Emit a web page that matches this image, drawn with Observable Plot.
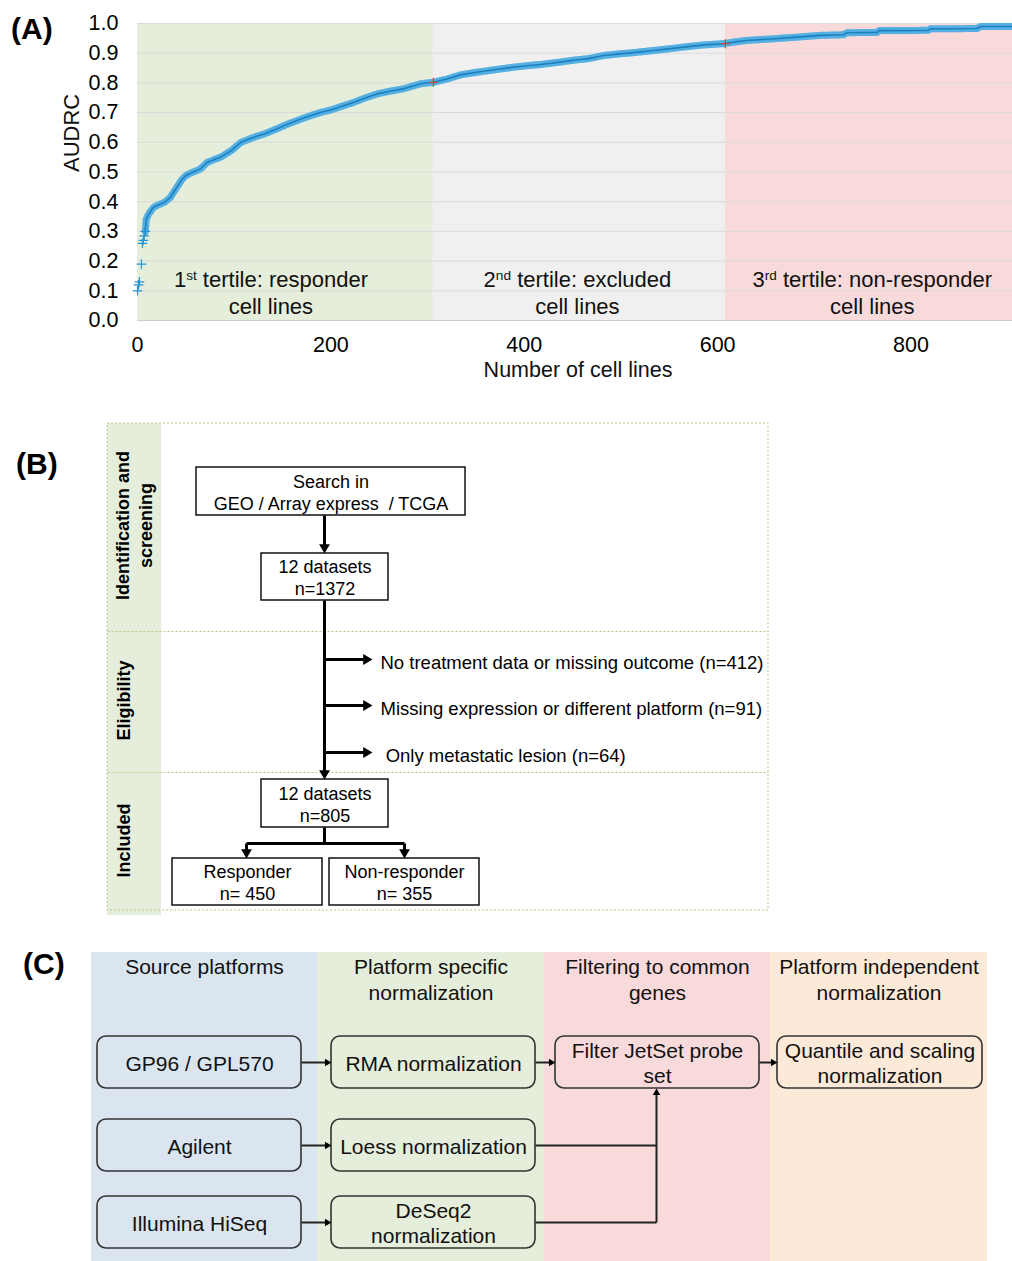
<!DOCTYPE html>
<html><head><meta charset="utf-8">
<script src="https://cdn.jsdelivr.net/npm/d3@7"></script>
<script src="https://cdn.jsdelivr.net/npm/@observablehq/plot@0.6"></script>
<style>
body{margin:0;background:#fff;font-family:"Liberation Sans",Arial,sans-serif;}
#page{position:relative;width:1012px;height:1261px;overflow:hidden;background:#fff;}
.panel{position:absolute;left:0;}
.plabel{position:absolute;font-weight:bold;font-size:30px;line-height:1;color:#000;}
</style></head><body><div id="page"></div>
<script>
// ---------- Panel A data ----------
const cellRank = [0,1,2,4,5,6,7,8,9,11,14,17,22,28,34,38,42,46,50,54,60,65,72,80,86,92,97,102,107,115,123,131,140,148,156,165,174,183,190,200,212,224,236,248,261,275,284,293,306,320,334,351,369,389,403,417,437,455,465,482,496,510,534,558,572,586,606,618,630,655,682,706,730,734,765,767,818,820,868,872,904];
const audrc = [0.10,0.12,0.13,0.19,0.26,0.27,0.285,0.30,0.34,0.355,0.37,0.382,0.39,0.398,0.415,0.435,0.455,0.475,0.488,0.495,0.503,0.51,0.532,0.543,0.55,0.562,0.572,0.586,0.60,0.61,0.62,0.628,0.64,0.651,0.662,0.673,0.684,0.694,0.701,0.709,0.722,0.735,0.75,0.763,0.772,0.78,0.789,0.797,0.802,0.813,0.827,0.836,0.844,0.853,0.858,0.862,0.87,0.878,0.881,0.892,0.897,0.901,0.909,0.918,0.923,0.928,0.932,0.938,0.943,0.948,0.954,0.96,0.962,0.969,0.970,0.976,0.977,0.982,0.983,0.99,0.99];
const tertileBounds = [0, 306, 608, 905];
const cutoffAudrc = [0.802, 0.932];
const tertileLabels = ["1st tertile: responder\ncell lines", "2nd tertile: excluded\ncell lines", "3rd tertile: non-responder\ncell lines"];
const tertileLabelX = [138, 455, 760];
const tertileColors = ["#e5eddb", "#f0f0f0", "#f9dadb"];
const yTicks = [0,0.1,0.2,0.3,0.4,0.5,0.6,0.7,0.8,0.9,1.0];
const xTicks = [0,200,400,600,800];

// ---------- Panel B data ----------
const bStages = ["Identification and\nscreening", "Eligibility", "Included"];
const bBoxes = ["Search in\nGEO / Array express  / TCGA", "12 datasets\nn=1372", "12 datasets\nn=805", "Responder\nn= 450", "Non-responder\nn= 355"];
const bExclusions = ["No treatment data or missing outcome (n=412)", "Missing expression or different platform (n=91)", " Only metastatic lesion (n=64)"];

// ---------- Panel C data ----------
const cColumns = ["Source platforms", "Platform specific\nnormalization", "Filtering to common\ngenes", "Platform independent\nnormalization"];
const cColColors = ["#dae5f0", "#e5eddb", "#f9dadb", "#fde9d8"];
const cSources = ["GP96 / GPL570", "Agilent", "Illumina HiSeq"];
const cNorms = ["RMA normalization", "Loess normalization", "DeSeq2\nnormalization"];
const cFilter = ["Filter JetSet probe\nset"];
const cFinal = ["Quantile and scaling\nnormalization"];

const page = document.getElementById("page");
const FONT = "Liberation Sans, Arial, sans-serif";

function place(el, top) {
  const d = document.createElement("div");
  d.className = "panel"; d.style.top = top + "px";
  d.appendChild(el); page.appendChild(d);
}
function label(txt, left, top) {
  const d = document.createElement("div");
  d.className = "plabel"; d.textContent = txt;
  d.style.left = left + "px"; d.style.top = top + "px";
  page.appendChild(d);
}
function superscripts(svg) {
  svg.querySelectorAll("text, tspan").forEach(el => {
    if (el.childNodes.length === 1 && el.firstChild.nodeType === 3) {
      const m = el.textContent.match(/^(\d)(st|nd|rd)( .*)$/);
      if (m) {
        el.textContent = "";
        el.appendChild(document.createTextNode(m[1]));
        const s = document.createElementNS("http://www.w3.org/2000/svg", "tspan");
        s.setAttribute("baseline-shift", "super");
        s.setAttribute("font-size", "0.62em");
        s.textContent = m[2];
        el.appendChild(s);
        el.appendChild(document.createTextNode(m[3]));
      }
    }
  });
}
// filled triangular arrow heads (tip at the given point)
function heads(data, dir, r) {
  const off = 2 * Math.sqrt(Math.PI * r * r / (3 * Math.sqrt(3)));
  const o = {right: {rotate: 90, dx: -off, dy: 0}, down: {rotate: 180, dx: 0, dy: -off}, up: {rotate: 0, dx: 0, dy: off}}[dir];
  return Plot.dot(data, {x: "x", y: "y", symbol: "triangle", r, fill: "#000", stroke: "none", rotate: o.rotate, dx: o.dx, dy: o.dy});
}

// ---------- Panel A ----------
const pts = cellRank.map((r, i) => ({rank: r, v: audrc[i]}));
const band = pts.filter(d => d.rank >= 8);
const tert = tertileLabels.map((t, i) => ({x1: tertileBounds[i], x2: tertileBounds[i + 1], lx: tertileLabelX[i], label: t, color: tertileColors[i]}));
const cut = cutoffAudrc.map((v, i) => ({rank: tertileBounds[i + 1], v}));
const chartA = Plot.plot({
  width: 1012, height: 395,
  marginLeft: 137, marginRight: 0, marginTop: 23, marginBottom: 75,
  style: {fontFamily: FONT, fontSize: "21.5px", color: "#000", background: "transparent", overflow: "visible"},
  color: {type: "identity"},
  x: {domain: [0, 905], ticks: xTicks, tickSize: 0, tickPadding: 16, label: null},
  y: {domain: [0, 1], ticks: yTicks, tickFormat: ".1f", tickSize: 0, tickPadding: 19, label: null},
  marks: [
    Plot.rect(tert, {x1: "x1", x2: "x2", y1: 0, y2: 1, fill: "color"}),
    Plot.gridY(yTicks, {stroke: "#dadada", strokeOpacity: 1, strokeWidth: 1}),
    Plot.ruleY([0], {stroke: "#cfcfcf"}),
    Plot.line(band, {x: "rank", y: "v", stroke: "#a9d7f0", strokeWidth: 7}),
    Plot.line(band, {x: "rank", y: "v", stroke: "#3aa3dc", strokeWidth: 7, strokeDasharray: "1 1.3", strokeOpacity: 0.75}),
    Plot.line(band, {x: "rank", y: "v", stroke: "#1b7fc0", strokeWidth: 1.6}),
    Plot.dot(pts.filter(d => d.rank < 9), {x: "rank", y: "v", symbol: "plus", r: 3.2, stroke: "#2596d4", strokeWidth: 1.2}),
    Plot.dot(cut, {x: "rank", y: "v", symbol: "plus", r: 3, stroke: "#e03a44", strokeWidth: 1.2}),
    Plot.text(tert, {x: "lx", text: "label", frameAnchor: "bottom", lineAnchor: "bottom", dy: -7, fontSize: 22, lineHeight: 1.22, fill: "#111"}),
    Plot.text(["AUDRC"], {frameAnchor: "left", dx: -66, rotate: -90, fontSize: 22, fill: "#111"}),
    Plot.text(["Number of cell lines"], {frameAnchor: "bottom", dy: 56, dx: 3, fontSize: 21.5, fill: "#111"})
  ]
});
superscripts(chartA);
place(chartA, 0);
label("(A)", 11, 14);

// ---------- Panel B (flow diagram, identity scales) ----------
const bTop = 410;
const stageBands = [{y1: 13, y2: 221}, {y1: 221, y2: 362}, {y1: 362, y2: 500}];
const stageRows = bStages.map((s, i) => ({text: s, y: [115, 290, 430][i], x: i === 0 ? 133 : 122}));
const bBoxLayout = [
  {x1: 196, x2: 465, y1: 57, y2: 105},
  {x1: 261, x2: 388, y1: 143, y2: 190},
  {x1: 261, x2: 388, y1: 369, y2: 417},
  {x1: 172, x2: 322, y1: 448, y2: 495},
  {x1: 329, x2: 479, y1: 448, y2: 495}
];
const bNodes = bBoxes.map((t, i) => ({text: t, ...bBoxLayout[i]}));
const exclY = [249, 295, 342];
const excl = bExclusions.map((t, i) => ({text: t, y: exclY[i]}));
const trunkX = 324;
const bLines = [
  {x1: trunkX, y1: 105, x2: trunkX, y2: 137},
  {x1: trunkX, y1: 190, x2: trunkX, y2: 363},
  {x1: trunkX, y1: 417, x2: trunkX, y2: 433},
  {x1: 246, y1: 433, x2: 404, y2: 433},
  {x1: 246, y1: 433, x2: 246, y2: 442},
  {x1: 404, y1: 433, x2: 404, y2: 442}
];
const bDownHeads = [{x: trunkX, y: 143}, {x: trunkX, y: 369}, {x: 246, y: 448}, {x: 404, y: 448}];
const bRightHeads = excl.map(d => ({x: 372, y: d.y}));
const chartB = Plot.plot({
  width: 1012, height: 510, margin: 0,
  style: {fontFamily: FONT, fontSize: "18px", color: "#000", background: "transparent", overflow: "visible"},
  x: {type: "identity", axis: null}, y: {type: "identity", axis: null},
  marks: [
    Plot.rect([{x1: 107, x2: 161, y1: 13, y2: 505}], {x1: "x1", x2: "x2", y1: "y1", y2: "y2", fill: "#e5eddb"}),
    Plot.rect([{x1: 107, x2: 768, y1: 13, y2: 500}], {x1: "x1", x2: "x2", y1: "y1", y2: "y2", fill: "none", stroke: "#b3cd8a", strokeDasharray: "2,2"}),
    Plot.link(stageBands.slice(1), {x1: 107, x2: 768, y1: "y1", y2: "y1", stroke: "#b3cd8a", strokeDasharray: "2,2"}),
    Plot.text(stageRows, {x: "x", y: "y", text: "text", rotate: -90, fontWeight: "bold", fontSize: 18, lineHeight: 1.25}),
    Plot.rect(bNodes, {x1: "x1", x2: "x2", y1: "y1", y2: "y2", fill: "#fff", stroke: "#111", strokeWidth: 1.5}),
    Plot.text(bNodes, {x: d => (d.x1 + d.x2) / 2, y: d => (d.y1 + d.y2) / 2, text: "text", lineHeight: 1.22, fontSize: 18}),
    Plot.link(bLines, {x1: "x1", y1: "y1", x2: "x2", y2: "y2", stroke: "#000", strokeWidth: 3}),
    Plot.link(excl, {x1: trunkX, x2: 366, y1: "y", y2: "y", stroke: "#000", strokeWidth: 3}),
    heads(bDownHeads, "down", 4),
    heads(bRightHeads, "right", 4),
    Plot.text(excl, {x: 380, y: d => d.y + 4, text: "text", textAnchor: "start", fontSize: 18.5})
  ]
});
place(chartB, bTop);
label("(B)", 16, 449);

// ---------- Panel C (pipeline diagram, identity scales) ----------
const cTop = 945;
const colX = [91, 317, 544, 770, 987];
const cols = cColumns.map((t, i) => ({text: t, x1: colX[i], x2: colX[i + 1], color: cColColors[i]}));
const rowY = [[91, 143], [174, 226], [251, 303]];
const boxX = [[97, 301], [331, 535], [555, 759], [777, 982]];
const cNodes = [];
cSources.forEach((t, r) => cNodes.push({text: t, col: 0, row: r}));
cNorms.forEach((t, r) => cNodes.push({text: t, col: 1, row: r}));
cFilter.forEach((t, r) => cNodes.push({text: t, col: 2, row: r}));
cFinal.forEach((t, r) => cNodes.push({text: t, col: 3, row: r}));
cNodes.forEach(n => { n.x1 = boxX[n.col][0]; n.x2 = boxX[n.col][1]; n.y1 = rowY[n.row][0]; n.y2 = rowY[n.row][1]; n.fill = cColColors[n.col]; });
const rowMid = rowY.map(r => (r[0] + r[1]) / 2);
const mergeX = 656;
const cRightArrows = [
  ...rowMid.map(y => ({x1: boxX[0][1], x2: boxX[1][0], y})),
  {x1: boxX[1][1], x2: boxX[2][0], y: rowMid[0]},
  {x1: boxX[2][1], x2: boxX[3][0], y: rowMid[0]}
];
const cLinks = [
  ...cRightArrows.map(d => ({x1: d.x1, x2: d.x2 - 3, y1: d.y, y2: d.y})),
  {x1: boxX[1][1], x2: mergeX, y1: rowMid[1], y2: rowMid[1]},
  {x1: boxX[1][1], x2: mergeX, y1: rowMid[2], y2: rowMid[2]},
  {x1: mergeX, x2: mergeX, y1: rowMid[2], y2: rowY[0][1] + 3}
];
const chartC = Plot.plot({
  width: 1012, height: 316, margin: 0,
  style: {fontFamily: FONT, fontSize: "21px", color: "#000", background: "transparent", overflow: "visible"},
  x: {type: "identity", axis: null}, y: {type: "identity", axis: null},
  color: {type: "identity"},
  marks: [
    Plot.rect(cols, {x1: "x1", x2: "x2", y1: 7, y2: 316, fill: "color"}),
    Plot.text(cols, {x: d => (d.x1 + d.x2) / 2, y: 11, text: "text", lineAnchor: "top", lineHeight: 1.2, fontSize: 21, fill: "#111"}),
    Plot.rect(cNodes, {x1: "x1", x2: "x2", y1: "y1", y2: "y2", fill: "fill", stroke: "#333", strokeWidth: 1.6, rx: 9}),
    Plot.text(cNodes, {x: d => (d.x1 + d.x2) / 2, y: d => (d.y1 + d.y2) / 2, text: "text", lineHeight: 1.2, fontSize: 21, fill: "#111"}),
    Plot.link(cLinks, {x1: "x1", y1: "y1", x2: "x2", y2: "y2", stroke: "#222", strokeWidth: 2}),
    heads(cRightArrows.map(d => ({x: d.x2, y: d.y})), "right", 2.8),
    heads([{x: mergeX, y: rowY[0][1]}], "up", 2.8)
  ]
});
place(chartC, cTop);
label("(C)", 23, 949);
</script></body></html>
